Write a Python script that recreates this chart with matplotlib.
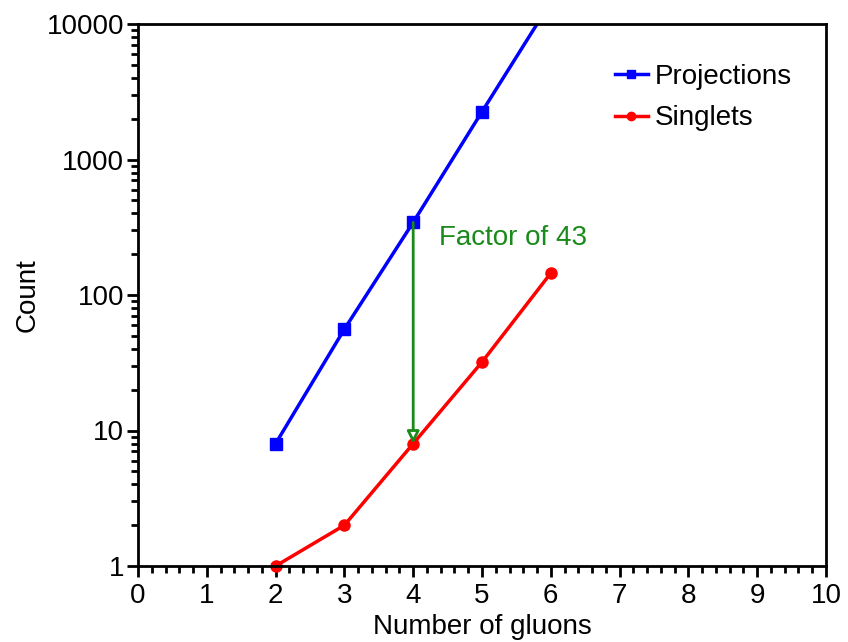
import numpy as np
import matplotlib
matplotlib.use('Agg')
from matplotlib import pyplot as plt
from matplotlib.ticker import MultipleLocator, LogLocator, NullFormatter, FixedLocator

#----------------------------------------------------------------------
# data
gluons = [2, 3, 4, 5, 6]
projections = [8, 56, 344, 2252, 14500]
singlets = [1, 2, 8, 32, 145]
arrow_x = 4
factor_label = "Factor of 43"

#----------------------------------------------------------------------
plt.rcParams['font.family'] = ['Liberation Sans', 'DejaVu Sans']
plt.rcParams['font.size'] = 20
plt.rcParams['axes.linewidth'] = 2

fig = plt.figure(figsize=(8.48, 6.42), dpi=100)
ax = fig.add_axes([138/848, 1 - 566/642, (826-138)/848, (566-24)/642])

ax.plot(gluons, projections, color='#0000ff', lw=2.5, marker='s', ms=8,
        label='Projections', clip_on=True)
ax.plot(gluons, singlets, color='#ff0000', lw=2.5, marker='o', ms=8,
        label='Singlets', clip_on=False)

# 矢印
ax.annotate('', xy=(arrow_x, singlets[2]), xytext=(arrow_x, projections[2]),
            arrowprops=dict(arrowstyle='-|>', color='#1a8a1a', lw=2,
                            fc='white', mutation_scale=18,
                            shrinkA=0, shrinkB=0))
ax.text(4.37, 262, factor_label, color='#1a8a1a', fontsize=20, va='center')

ax.set_yscale('log')
ax.set_xlim(0, 10)
ax.set_ylim(1, 10000)
ax.xaxis.set_major_locator(MultipleLocator(1))
ax.xaxis.set_minor_locator(MultipleLocator(0.2))
ax.yaxis.set_major_locator(FixedLocator([1, 10, 100, 1000, 10000]))
ax.yaxis.set_major_formatter(matplotlib.ticker.FuncFormatter(lambda v, p: '%d' % v))
ax.yaxis.set_minor_locator(LogLocator(base=10, subs=np.arange(2, 10)))
ax.yaxis.set_minor_formatter(NullFormatter())

ax.tick_params(which='major', direction='out', length=8, width=2, labelsize=20, pad=2)
ax.tick_params(axis='x', which='major', pad=4)
ax.tick_params(which='minor', direction='out', length=5, width=2)

ax.set_xlabel('Number of gluons', fontsize=20, labelpad=4)
ax.set_ylabel('Count', fontsize=20, labelpad=4)

ax.legend(loc='upper left', frameon=False, fontsize=20, handlelength=1.2,
          handletextpad=0.25, labelspacing=0.57, borderpad=0, borderaxespad=0,
          bbox_to_anchor=(0.693, 0.927), markerscale=0.75)

plt.savefig('out.png', dpi=100)
